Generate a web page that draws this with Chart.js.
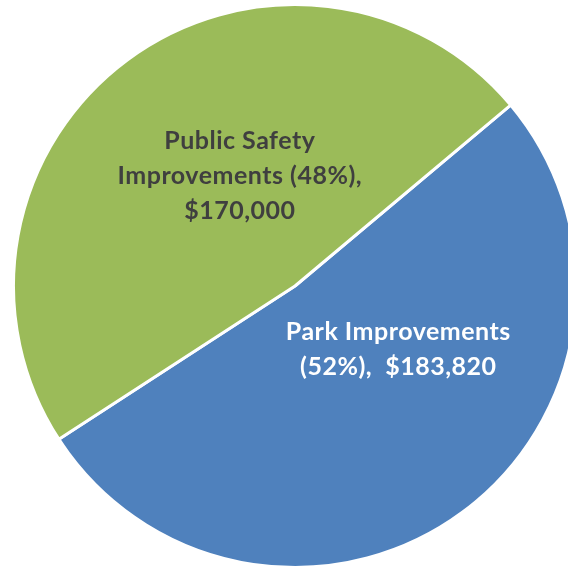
<!DOCTYPE html>
<html>
<head>
<meta charset="utf-8">
<script src="https://cdn.jsdelivr.net/npm/chart.js@4.4.1/dist/chart.umd.min.js"></script>
<style>
  html, body { margin: 0; padding: 0; background: #fff; overflow: hidden; }
  #wrap { position: absolute; left: 0; top: 0; width: 600px; height: 580px; }
</style>
</head>
<body>
<div id="wrap"><canvas id="chart" width="600" height="580"></canvas></div>
<script>
const categories = ['Park Improvements', 'Public Safety Improvements'];
const amounts = [183820, 170000];
const sliceColors = ['#4F81BD', '#9BBB59'];
const labelColors = ['#FFFFFF', '#3F3F3F'];
// label anchor, as a fraction of the radius from the pie centre
const labelAnchors = [[0.367, 0.224], [-0.196, -0.391]];
const labelSeparators = ['  ', ' '];

const total = amounts.reduce((a, b) => a + b, 0);
const money = v => '$' + v.toLocaleString('en-US');
const MAX_W = 280;

function wrapText(ctx, text, maxWidth) {
    const words = text.split(' ');
    const lines = [];
    let line = '';
    words.forEach(w => {
        const test = line ? line + ' ' + w : w;
        if (line && ctx.measureText(test).width > maxWidth) {
            lines.push(line);
            line = w;
        } else {
            line = test;
        }
    });
    if (line) lines.push(line);
    return lines;
}

const sliceLabels = {
    id: 'sliceLabels',
    afterDatasetsDraw(chart) {
        const ctx = chart.ctx;
        const meta = chart.getDatasetMeta(0);
        ctx.save();
        ctx.font = 'bold 25px Lato';
        ctx.letterSpacing = '0.5px';
        ctx.textAlign = 'center';
        ctx.textBaseline = 'middle';
        meta.data.forEach((arc, i) => {
            const pct = Math.round(amounts[i] / total * 100);
            const lines = wrapText(ctx, `${categories[i]} (${pct}%),`, MAX_W);
            // value joins the percentage line when it sits alone, else gets its own line
            const last = lines[lines.length - 1] + labelSeparators[i] + money(amounts[i]);
            if (ctx.measureText(last).width <= MAX_W && lines[lines.length - 1].startsWith('(')) {
                lines[lines.length - 1] = last;
            } else {
                lines.push(money(amounts[i]));
            }
            const r = arc.outerRadius;
            const cx = arc.x + labelAnchors[i][0] * r;
            const cy = arc.y + labelAnchors[i][1] * r;
            const lh = 35;
            ctx.fillStyle = labelColors[i];
            lines.forEach((l, k) => {
                ctx.fillText(l, cx, cy + (k - (lines.length - 1) / 2) * lh);
            });
        });
        ctx.restore();
    }
};

new Chart(document.getElementById('chart'), {
    type: 'pie',
    data: {
        labels: categories,
        datasets: [{
            data: amounts,
            backgroundColor: sliceColors,
            borderColor: '#FFFFFF',
            borderWidth: 3,
            hoverOffset: 0
        }]
    },
    options: {
        responsive: false,
        animation: false,
        rotation: 50,
        layout: { padding: { left: 12, top: 3, right: 22, bottom: 11 } },
        plugins: {
            legend: { display: false },
            tooltip: { enabled: false }
        }
    },
    plugins: [sliceLabels]
});
</script>
</body>
</html>
